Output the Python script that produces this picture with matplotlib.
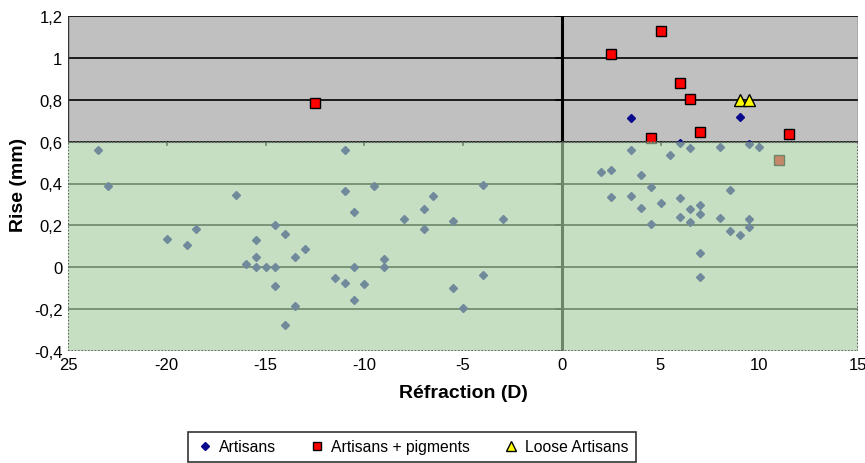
import matplotlib
matplotlib.use("Agg")
import matplotlib.pyplot as plt
from matplotlib.patches import Rectangle
from matplotlib.lines import Line2D

plt.rcParams["font.family"] = ["Liberation Sans", "DejaVu Sans"]

# --- donnees ---
art_x = [-23.5, -23.0, -16.5, -20.0, -19.0, -18.5, -14.5, -14.0, -15.5, -15.5,
         -16.0, -15.5, -15.0, -14.5, -14.5, -13.5, -13.5, -14.0, -13.0, -11.0,
         -11.0, -9.5, -10.5, -8.0, -7.0, -6.5, -7.0, -5.5, -4.0, -3.0,
         -9.0, -9.0, -10.5, -11.5, -11.0, -10.0, -10.5, -5.5, -5.0, -4.0,
         3.5, 9.0, 6.0, 3.5, 6.5, 8.0, 9.5, 10.0, 5.5, 2.0,
         2.5, 4.0, 4.5, 8.5, 2.5, 3.5, 6.0, 4.0, 5.0, 6.5,
         7.0, 6.0, 7.0, 6.5, 4.5, 8.0, 9.5, 9.5, 8.5, 9.0,
         7.0, 7.0]
art_y = [0.56, 0.39, 0.345, 0.135, 0.105, 0.185, 0.20, 0.16, 0.13, 0.05,
         0.015, 0.0, 0.0, 0.0, -0.09, 0.05, -0.185, -0.275, 0.085, 0.56,
         0.365, 0.39, 0.265, 0.23, 0.28, 0.34, 0.185, 0.22, 0.395, 0.23,
         0.04, 0.0, 0.0, -0.05, -0.075, -0.08, -0.155, -0.10, -0.195, -0.035,
         0.715, 0.72, 0.595, 0.56, 0.57, 0.575, 0.59, 0.575, 0.535, 0.455,
         0.465, 0.44, 0.385, 0.37, 0.335, 0.34, 0.33, 0.285, 0.305, 0.28,
         0.295, 0.24, 0.255, 0.215, 0.205, 0.235, 0.23, 0.19, 0.175, 0.155,
         0.07, -0.045]

pig_x = [-12.5, 5.0, 2.5, 6.0, 6.5, 7.0, 11.5, 4.5, 11.0]
pig_y = [0.785, 1.13, 1.02, 0.88, 0.805, 0.645, 0.635, 0.615, 0.51]

loose_x = [9.0, 9.5]
loose_y = [0.80, 0.80]

xticks = [-25, -20, -15, -10, -5, 0, 5, 10, 15]
xtick_labels = ["25", "-20", "-15", "-10", "-5", "0", "5", "10", "15"]
yticks = [-0.4, -0.2, 0, 0.2, 0.4, 0.6, 0.8, 1.0, 1.2]
ytick_labels = ["-0,4", "-0,2", "0", "0,2", "0,4", "0,6", "0,8", "1", "1,2"]

fig = plt.figure(figsize=(8.65, 4.64), dpi=100)
ax = fig.add_axes([68 / 865, 1 - 352 / 464, 790 / 865, 335 / 464])
ax.set_xlim(-25, 15)
ax.set_ylim(-0.4, 1.2)

# zone grise (au-dessus de 0,6)
ax.axhspan(0.6, 1.2, color="#c0c0c0", zorder=0)
for y in yticks[1:]:
    ax.axhline(y, color="black", lw=1.2, zorder=1)
ax.axvline(0, color="black", lw=2.2, zorder=1)
ax.plot([-25, -25], [0.6, 1.2], color="#333333", lw=1, zorder=1)
ax.plot([15, 15], [0.6, 1.2], color="#555555", lw=1, zorder=1)
# petites graduations sur les axes qui se croisent (0 ; 0,6)
for x in xticks[1:-1]:
    ax.plot([x, x], [0.6, 0.585], color="black", lw=1.2, zorder=1)
for y in yticks:
    ax.plot([-0.3, 0], [y, y], color="black", lw=1.2, zorder=1)

ax.plot(art_x, art_y, ls="none", marker="D", ms=4.3, color="#0a0a8c", zorder=3)
ax.plot(pig_x, pig_y, ls="none", marker="s", ms=7, mfc="#ff0000", mec="black",
        mew=1, zorder=3)
ax.plot(loose_x, loose_y, ls="none", marker="^", ms=9, mfc="#ffff00", mec="black",
        mew=1, zorder=3)

# voile vert semi-transparent (zone < 0,6)
ax.add_patch(Rectangle((-25, -0.4), 40, 1.0, facecolor=(168 / 255, 207 / 255, 164 / 255),
                       alpha=0.65, edgecolor="none", zorder=4))
ax.add_patch(Rectangle((-25, -0.4), 40, 1.0, fill=False, edgecolor="#555555",
                       lw=1.2, ls=(0, (1, 1)), zorder=5))

for s in ax.spines.values():
    s.set_visible(False)
ax.set_xticks(xticks)
ax.set_xticklabels(xtick_labels)
ax.set_yticks(yticks)
ax.set_yticklabels(ytick_labels)
ax.tick_params(length=0, labelsize=12, pad=4)
ax.set_xlabel("Réfraction (D)", fontsize=14, fontweight="bold", labelpad=9)
ax.set_ylabel("Rise (mm)", fontsize=14, fontweight="bold", labelpad=5)

handles = [
    Line2D([], [], ls="none", marker="D", ms=4, color="#0a0a8c"),
    Line2D([], [], ls="none", marker="s", ms=6, mfc="#ff0000", mec="black"),
    Line2D([], [], ls="none", marker="^", ms=7, mfc="#ffff00", mec="black"),
]
leg = fig.legend(handles, ["Artisans", "Artisans + pigments", "Loose Artisans"],
                 loc="center", bbox_to_anchor=(412 / 865, 1 - 448 / 464), ncol=3,
                 frameon=True, fancybox=False, fontsize=11.3, handletextpad=0.3,
                 columnspacing=2.0, borderpad=0.45, handlelength=1.2)
leg.get_frame().set_edgecolor("black")
leg.get_frame().set_linewidth(1.2)

fig.savefig("out.png", dpi=100)
